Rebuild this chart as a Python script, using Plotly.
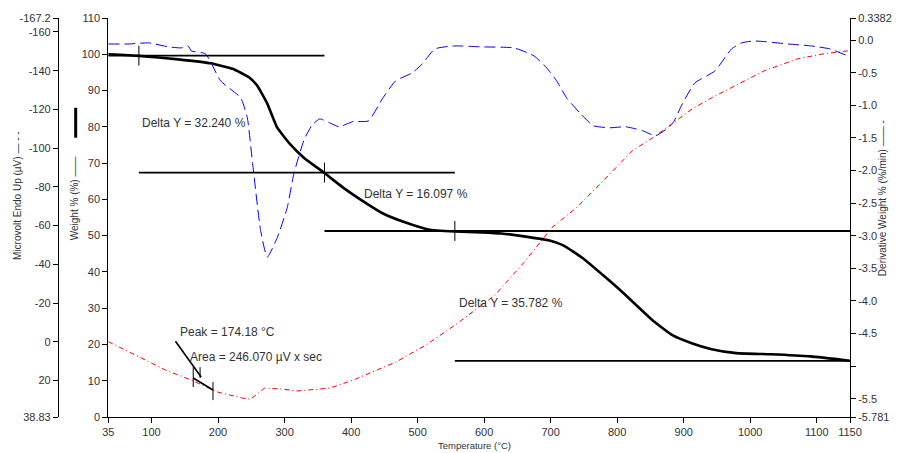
import plotly.graph_objects as go

# ---------------- data ----------------
# Weight % (black solid) vs temperature
temp_wt = [35, 81, 140, 189, 222, 247, 259, 274, 289, 308, 329, 359, 388, 423, 448, 482,
           516, 556, 596, 626, 660, 697, 719, 749, 779, 808, 853, 883, 912, 942, 979, 1031,
           1091, 1150]
weight = [100.0, 99.55, 98.6, 97.5, 96.0, 93.6, 91.3, 86.4, 79.75, 75.3, 71.5, 67.4, 63.25,
          58.9, 56.1, 53.6, 51.7, 51.15, 50.9, 50.6, 49.8, 48.7, 47.3, 43.7, 39.05, 34.4,
          26.7, 22.55, 20.35, 18.7, 17.6, 17.3, 16.7, 15.5]

# Derivative weight %/min (blue dashed)
temp_dr = [35, 66, 96, 126, 145, 155, 160, 181, 204, 234, 244, 252, 264, 274, 289, 304, 314,
           329, 341, 353, 368, 382, 403, 426, 448, 467, 492, 507, 526, 556, 596, 645, 675,
           694, 709, 724, 745, 764, 789, 813, 838, 858, 883, 898, 917, 947, 972, 987, 1006,
           1057, 1091, 1120, 1147, 1150]
deriv = [-0.06, -0.06, -0.044, -0.105, -0.12, -0.09, -0.167, -0.21, -0.626, -0.886, -1.19,
         -1.895, -2.92, -3.33, -3.03, -2.57, -2.05, -1.54, -1.31, -1.21, -1.27, -1.33, -1.25,
         -1.24, -0.886, -0.626, -0.503, -0.366, -0.136, -0.09, -0.105, -0.121, -0.243,
         -0.427, -0.626, -0.886, -1.13, -1.314, -1.345, -1.33, -1.39, -1.467, -1.283,
         -0.977, -0.656, -0.473, -0.136, -0.044, -0.014, -0.06, -0.09, -0.136, -0.243, -0.243]

# Microvolt Endo Up (red dash-dot)
temp_uv = [35, 81, 121, 160, 200, 237, 249, 270, 296, 319, 368, 403, 467, 512, 556, 616,
           660, 702, 739, 779, 823, 858, 883, 913, 942, 982, 1021, 1071, 1110, 1146, 1150]
microvolt = [-0.1, 7.9, 14.6, 19.8, 26.0, 29.1, 29.6, 23.9, 24.4, 25.4, 23.9, 19.8, 10.5,
             1.75, -8.55, -24.0, -41.0, -59.0, -69.3, -83.2, -98.7, -106.4, -112.6, -120.3,
             -126.0, -133.2, -139.9, -146.1, -148.7, -150.2, -150.7]

# Delta Y step markers (weight %)
step_levels = [99.62, 67.38, 51.28, 15.50]
step_start = [35, 81, 360, 556]
step_end = [360, 556, 1150, 1150]
step_tick_T = [81, 360, 556]
delta_labels = ["Delta Y = 32.240 %", "Delta Y = 16.097 %", "Delta Y = 35.782 %"]

# Peak / area marker (microvolt)
peak_T = [136, 174.6]
peak_V = [-0.3, 18.2]
area_T = [162.7, 192.4]
area_V = [18.7, 24.9]
vmark_T = [173, 162.7, 192.4]
vmark_lo = [13.1, 13.1, 20.8]
vmark_hi = [18.7, 23.4, 30.1]

x_ticks = [35, 100, 200, 300, 400, 500, 600, 700, 800, 900, 1000, 1100, 1150]
wt_ticks = list(range(0, 111, 10))
uv_ticks = [-167.2, -160, -140, -120, -100, -80, -60, -40, -20, 0, 20, 38.83]
uv_text = ["-167.2", "-160", "-140", "-120", "-100", "-80", "-60", "-40", "-20", "0", "20", "38.83"]
dr_ticks = [0.3382, 0.0, -0.5, -1.0, -1.5, -2.0, -2.5, -3.0, -3.5, -4.0, -4.5, -5.0, -5.5, -5.781]
dr_text = ["0.3382", "0.0", "-0.5", "-1.0", "-1.5", "-2.0", "-2.5", "-3.0", "-3.5", "-4.0",
           "-4.5", "", "-5.5", "-5.781"]

# ---------------- layout helpers ----------------
W_PX, H_PX = 904, 453
ML, MR, MT, MB = 50, 44, 17, 36
PW = W_PX - ML - MR
PH = H_PX - MT - MB


def px(x):
    return (x - ML) / PW


def py(y):
    return (H_PX - MB - y) / PH


FONT = "Liberation Sans, Arial, sans-serif"
TXT = "#333333"

fig = go.Figure()

fig.add_trace(go.Scatter(x=temp_uv, y=microvolt, yaxis="y3", mode="lines",
                         line=dict(color="#FF0000", width=1, dash="5px,3px,1px,3px"),
                         hoverinfo="skip"))
fig.add_trace(go.Scatter(x=temp_dr, y=deriv, yaxis="y2", mode="lines",
                         line=dict(color="#0000FF", width=1, dash="11px,5px", shape="spline",
                                   smoothing=0.5),
                         hoverinfo="skip"))
fig.add_trace(go.Scatter(x=temp_wt, y=weight, mode="lines",
                         line=dict(color="black", width=2.6, shape="spline", smoothing=0.4),
                         hoverinfo="skip"))

# step lines
sx, sy = [], []
for a, b, lv in zip(step_start, step_end, step_levels):
    sx += [a, b, None]
    sy += [lv, lv, None]
fig.add_trace(go.Scatter(x=sx, y=sy, mode="lines", line=dict(color="black", width=1.8),
                         hoverinfo="skip"))
tx, ty = [], []
for t, lv in zip(step_tick_T, step_levels[:3]):
    tx += [t, t, None]
    ty += [lv - 2.75, lv + 2.75, None]
fig.add_trace(go.Scatter(x=tx, y=ty, mode="lines", line=dict(color="black", width=1),
                         hoverinfo="skip"))

# peak / area markers
fig.add_trace(go.Scatter(x=peak_T, y=peak_V, yaxis="y3", mode="lines",
                         line=dict(color="black", width=1.6), hoverinfo="skip"))
fig.add_trace(go.Scatter(x=area_T, y=area_V, yaxis="y3", mode="lines",
                         line=dict(color="black", width=1.6), hoverinfo="skip"))
vx, vy = [], []
for t, lo, hi in zip(vmark_T, vmark_lo, vmark_hi):
    vx += [t, t, None]
    vy += [lo, hi, None]
fig.add_trace(go.Scatter(x=vx, y=vy, yaxis="y3", mode="lines",
                         line=dict(color="black", width=1), hoverinfo="skip"))

ann = []
label_pos = [(82.5, 81.1), (416.6, 61.6), (559, 31.35)]
for (x, y), t in zip(label_pos, delta_labels):
    ann.append(dict(x=x, y=y, xref="x", yref="y", text=t, showarrow=False, xanchor="left",
                    yanchor="middle", font=dict(family=FONT, size=12, color=TXT)))
ann.append(dict(x=140.4, y=23.4, xref="x", yref="y", text="Peak = 174.18 °C", showarrow=False,
                xanchor="left", yanchor="middle", font=dict(family=FONT, size=12, color=TXT)))
ann.append(dict(x=155.3, y=16.5, xref="x", yref="y", text="Area = 246.070 µV x sec",
                showarrow=False, xanchor="left", yanchor="middle",
                font=dict(family=FONT, size=12, color=TXT)))

# axis titles
ann.append(dict(x=px(480), y=py(446), xref="paper", yref="paper", text="Temperature (°C)",
                showarrow=False, xanchor="center", yanchor="middle",
                font=dict(family=FONT, size=9.5, color=TXT)))
ann.append(dict(x=px(17), y=py(195), xref="paper", yref="paper",
                text="Microvolt Endo Up (µV) — - -", textangle=-90, showarrow=False,
                xanchor="center", yanchor="middle",
                font=dict(family=FONT, size=10, color=TXT)))
ann.append(dict(x=px(75), y=py(198), xref="paper", yref="paper",
                text="Weight % (%) ——", textangle=-90, showarrow=False,
                xanchor="center", yanchor="middle",
                font=dict(family=FONT, size=10, color=TXT)))
ann.append(dict(x=px(893), y=py(198), xref="paper", yref="paper",
                text="Derivative Weight % (%/min) —— -", textangle=-90, showarrow=False,
                xanchor="center", yanchor="middle",
                font=dict(family=FONT, size=10, color=TXT)))

shapes = [dict(type="line", xref="paper", yref="paper", x0=px(76), x1=px(76),
               y0=py(107), y1=py(137), line=dict(color="black", width=3))]

tickfont = dict(family=FONT, size=11, color=TXT)
axis_common = dict(showgrid=False, zeroline=False, showline=True, linecolor="black",
                   linewidth=1, ticks="outside", ticklen=5, tickcolor="black", tickwidth=1,
                   tickfont=tickfont)

fig.update_layout(
    width=W_PX, height=H_PX,
    margin=dict(l=ML, r=MR, t=MT, b=MB),
    paper_bgcolor="white", plot_bgcolor="white",
    showlegend=False,
    xaxis=dict(domain=[px(109), 1], range=[35, 1150], tickvals=x_ticks,
               ticktext=[str(v) for v in x_ticks], anchor="y", **axis_common),
    yaxis=dict(range=[0, 110], tickvals=wt_ticks, anchor="x", **axis_common),
    yaxis2=dict(range=[-5.781, 0.3382], tickvals=dr_ticks, ticktext=dr_text,
                overlaying="y", side="right", anchor="x", **axis_common),
    yaxis3=dict(range=[38.83, -167.2], tickvals=uv_ticks, ticktext=uv_text,
                overlaying="y", side="left", anchor="free", position=px(58), **axis_common),
    annotations=ann,
    shapes=shapes,
)

fig.write_html("out.html")
